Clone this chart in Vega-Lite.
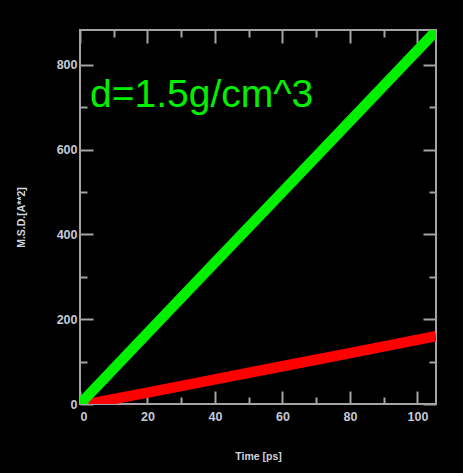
{
  "$schema": "https://vega.github.io/schema/vega-lite/v6.json",
  "width": 356,
  "height": 374,
  "autosize": {"type": "none"},
  "padding": {"left": 80, "top": 30, "right": 27, "bottom": 69},
  "background": "black",
  "config": {
    "view": {"stroke": "#a4a4a4", "strokeWidth": 2, "fill": "black"},
    "axis": {
      "domain": false,
      "grid": false,
      "tickColor": "#a4a4a4",
      "tickWidth": 2,
      "labelFont": "Liberation Sans",
      "labelFontWeight": "bold",
      "labelFontSize": 12.5,
      "labelColor": "#c4cad6",
      "titleFont": "Liberation Sans",
      "titleFontWeight": "bold",
      "titleFontSize": 10.5,
      "titleColor": "#d0d4dc"
    }
  },
  "datasets": {
    "lines": [
      {"series": "red", "time": 2.5, "msd": 0},
      {"series": "red", "time": 20, "msd": 27},
      {"series": "red", "time": 40, "msd": 58},
      {"series": "red", "time": 60, "msd": 89},
      {"series": "red", "time": 80, "msd": 120},
      {"series": "red", "time": 105.5, "msd": 160},
      {"series": "green", "time": 0, "msd": 0},
      {"series": "green", "time": 20, "msd": 167},
      {"series": "green", "time": 40, "msd": 334},
      {"series": "green", "time": 60, "msd": 500},
      {"series": "green", "time": 80, "msd": 667},
      {"series": "green", "time": 105.5, "msd": 880}
    ],
    "note": [{"time": 3, "msd": 700, "label": "d=1.5g/cm^3"}]
  },
  "layer": [
    {
      "data": {"name": "lines"},
      "mark": {"type": "line", "clip": true, "strokeWidth": 10.5, "strokeCap": "butt"},
      "encoding": {
        "x": {
          "field": "time", "type": "quantitative",
          "scale": {"domain": [0, 105.5], "nice": false, "zero": false},
          "axis": {
            "orient": "bottom",
            "title": "Time [ps]",
            "values": [0, 10, 20, 30, 40, 50, 60, 70, 80, 90, 100],
            "labelExpr": "datum.value % 20 === 0 ? datum.label : ''",
            "tickSize": {"condition": {"test": "datum.value % 20 === 0", "value": -13}, "value": -7},
            "labelPadding": 19,
            "titlePadding": 29
          }
        },
        "y": {
          "field": "msd", "type": "quantitative",
          "scale": {"domain": [0, 882], "nice": false, "zero": false},
          "axis": {
            "orient": "left",
            "title": "M.S.D.[A**2]",
            "values": [0, 100, 200, 300, 400, 500, 600, 700, 800],
            "labelExpr": "datum.value % 200 === 0 ? datum.label : ''",
            "tickSize": {"condition": {"test": "datum.value % 200 === 0", "value": -13}, "value": -7},
            "labelPadding": 16,
            "titlePadding": 30
          }
        },
        "color": {
          "field": "series", "type": "nominal",
          "scale": {"domain": ["red", "green"], "range": ["#ff0000", "#00f000"]},
          "legend": null
        },
        "order": {"field": "time"}
      }
    },
    {
      "data": {"name": "lines"},
      "mark": {"type": "line", "opacity": 0},
      "encoding": {
        "x": {
          "field": "time", "type": "quantitative",
          "axis": {
            "orient": "top",
            "title": null,
            "labels": false,
            "values": [0, 10, 20, 30, 40, 50, 60, 70, 80, 90, 100],
            "tickSize": {"condition": {"test": "datum.value % 20 === 0", "value": -13}, "value": -7}
          }
        },
        "y": {
          "field": "msd", "type": "quantitative",
          "axis": {
            "orient": "right",
            "title": null,
            "labels": false,
            "values": [0, 100, 200, 300, 400, 500, 600, 700, 800],
            "tickSize": {"condition": {"test": "datum.value % 200 === 0", "value": -13}, "value": -7}
          }
        },
        "detail": {"field": "series"}
      }
    },
    {
      "data": {"name": "note"},
      "mark": {"type": "text", "align": "left", "baseline": "alphabetic", "font": "Liberation Sans", "fontSize": 39, "color": "#00f000"},
      "encoding": {
        "x": {"field": "time", "type": "quantitative", "axis": null},
        "y": {"field": "msd", "type": "quantitative", "axis": null},
        "text": {"field": "label"}
      }
    }
  ],
  "resolve": {"axis": {"x": "independent", "y": "independent"}}
}
